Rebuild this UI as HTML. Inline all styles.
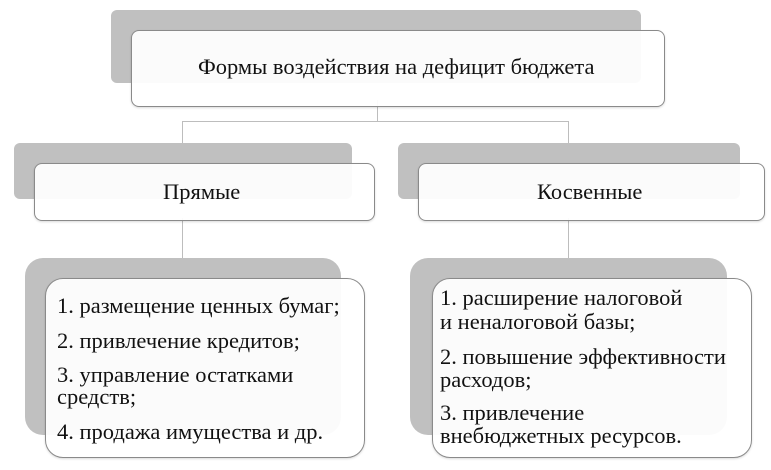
<!DOCTYPE html>
<html><head><meta charset="utf-8"><style>
body{margin:0;width:771px;height:470px;background:#fff;position:relative;overflow:hidden;font-family:"Liberation Serif","Times New Roman","DejaVu Serif",serif;color:#111}
.g{position:absolute;background:#c0c0c0;border-radius:6px}
.w{position:absolute;background:rgba(255,255,255,0.93);border:1.5px solid #8a8a8a;border-radius:8px;box-sizing:border-box;box-shadow:0 1px 2px rgba(0,0,0,.15)}
.l{position:absolute;background:#bdbdbd}
.t{position:absolute;white-space:nowrap;font-size:22.5px;line-height:26px}
</style></head><body>
<div class="l" style="left:377px;top:100px;width:1px;height:22px"></div>
<div class="l" style="left:182px;top:121px;width:387px;height:1px"></div>
<div class="l" style="left:182px;top:121px;width:1px;height:24px"></div>
<div class="l" style="left:568px;top:121px;width:1px;height:24px"></div>
<div class="l" style="left:182px;top:218px;width:1px;height:42px"></div>
<div class="l" style="left:568px;top:218px;width:1px;height:42px"></div>

<div class="g" style="left:111px;top:10px;width:530px;height:73px"></div>
<div class="w" style="left:131px;top:30px;width:534px;height:77px"></div>
<div class="t" style="left:198px;top:54px">Формы воздействия на дефицит бюджета</div>

<div class="g" style="left:14px;top:143px;width:338px;height:56px"></div>
<div class="w" style="left:34px;top:163px;width:341px;height:58px"></div>
<div class="t" style="left:163px;top:179px">Прямые</div>

<div class="g" style="left:398px;top:143px;width:342px;height:56px"></div>
<div class="w" style="left:418px;top:163px;width:347px;height:58px"></div>
<div class="t" style="left:537px;top:179px">Косвенные</div>

<div class="g" style="left:25px;top:258px;width:316px;height:177px;border-radius:18px"></div>
<div class="w" style="left:45px;top:278px;width:320px;height:180px;border-radius:18px"></div>
<div class="t" style="left:57px;top:293px">1. размещение ценных бумаг;</div>
<div class="t" style="left:57px;top:328px">2. привлечение кредитов;</div>
<div class="t" style="left:57px;top:362px">3. управление остатками</div>
<div class="t" style="left:57px;top:384px">средств;</div>
<div class="t" style="left:57px;top:419px">4. продажа имущества и др.</div>

<div class="g" style="left:410px;top:258px;width:317px;height:177px;border-radius:18px"></div>
<div class="w" style="left:432px;top:278px;width:320px;height:180px;border-radius:18px"></div>
<div class="t" style="left:440px;top:285px">1. расширение налоговой</div>
<div class="t" style="left:440px;top:309px">и неналоговой базы;</div>
<div class="t" style="left:440px;top:344px">2. повышение эффективности</div>
<div class="t" style="left:440px;top:367px">расходов;</div>
<div class="t" style="left:440px;top:400px">3. привлечение</div>
<div class="t" style="left:440px;top:423px">внебюджетных ресурсов.</div>
</body></html>
